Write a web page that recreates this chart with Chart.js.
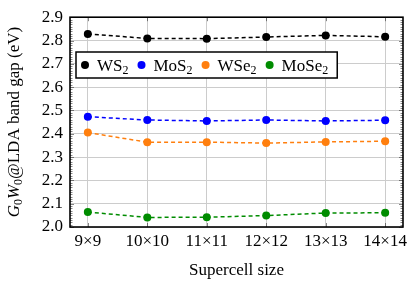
<!DOCTYPE html>
<html>
<head>
<meta charset="utf-8">
<script src="https://cdn.jsdelivr.net/npm/chart.js@4"></script>
<style>
  html, body { margin: 0; padding: 0; background: #fff; }
  #wrap { width: 415px; height: 281px; }
</style>
</head>
<body>
<div id="wrap"><canvas id="gapChart" width="415" height="281"></canvas></div>
<script>
// supercell sizes along the x axis
const categories = ['9×9', '10×10', '11×11', '12×12', '13×13', '14×14'];

// G0W0@LDA band gaps (eV)
const ws2Gap = [2.828, 2.809, 2.808, 2.815, 2.822, 2.816];
const mos2Gap = [2.473, 2.459, 2.455, 2.459, 2.455, 2.458];
const wse2Gap = [2.405, 2.364, 2.364, 2.360, 2.365, 2.368];
const mose2Gap = [2.064, 2.041, 2.042, 2.049, 2.060, 2.061];

const yTicks = [2.0, 2.1, 2.2, 2.3, 2.4, 2.5, 2.6, 2.7, 2.8, 2.9];

// legend names: base text + subscript
const names = [['WS', '2'], ['MoS', '2'], ['WSe', '2'], ['MoSe', '2']];
const colors = ['#000000', '#0000ff', '#ff7f0e', '#008c00'];

const FONT = '"Liberation Serif", "Times New Roman", serif';

function toPoints(arr) {
    return arr.map((v, i) => ({ x: i, y: v }));
}

const series = [ws2Gap, mos2Gap, wse2Gap, mose2Gap];
const datasets = series.map((s, i) => ({
    label: names[i].join(''),
    data: toPoints(s),
    borderColor: colors[i],
    backgroundColor: colors[i],
    borderWidth: 1.5,
    borderDash: [4, 3],
    pointRadius: 4,
    pointBorderWidth: 0,
    pointHoverRadius: 4,
    tension: 0
}));

// frame, minor ticks, legend box and the y title
const decorations = {
    id: 'decorations',
    afterDraw(chart) {
        const ctx = chart.ctx;
        const a = chart.chartArea;
        const y = chart.scales.y;
        const x = chart.scales.x;
        ctx.save();

        // small inward ticks on left/right
        ctx.strokeStyle = '#333';
        ctx.lineWidth = 0.6;
        for (let i = 0; i <= 90; i++) {
            const py = Math.round(y.getPixelForValue(2 + i * 0.01)) + 0.5;
            const len = i % 10 === 0 ? 4 : 2.5;
            ctx.beginPath();
            ctx.moveTo(a.left, py); ctx.lineTo(a.left + len, py);
            ctx.moveTo(a.right, py); ctx.lineTo(a.right - len, py);
            ctx.stroke();
        }
        // major x ticks top/bottom
        for (let i = 0; i < categories.length; i++) {
            const px = Math.round(x.getPixelForValue(i)) + 0.5;
            ctx.beginPath();
            ctx.moveTo(px, a.top); ctx.lineTo(px, a.top + 4);
            ctx.moveTo(px, a.bottom); ctx.lineTo(px, a.bottom - 4);
            ctx.stroke();
        }

        // frame
        ctx.strokeStyle = '#000';
        ctx.lineWidth = 1.6;
        ctx.strokeRect(a.left, a.top, a.right - a.left, a.bottom - a.top);

        // legend
        const bx = 76, by = 52, bh = 26;
        const subFont = '12px ' + FONT;
        let cx = bx + 9;
        const cy = by + bh / 2;
        const items = [];
        for (let i = 0; i < names.length; i++) {
            ctx.font = '17px ' + FONT;
            const w1 = ctx.measureText(names[i][0]).width;
            ctx.font = subFont;
            const w2 = ctx.measureText(names[i][1]).width;
            items.push({ dot: cx, tx: cx + 12, w1: w1, w2: w2 });
            cx = cx + 12 + w1 + w2 + 13;
        }
        const bw = cx - 13 + 9 - bx;
        ctx.fillStyle = '#fff';
        ctx.fillRect(bx, by, bw, bh);
        ctx.lineWidth = 1.5;
        ctx.strokeStyle = '#000';
        ctx.strokeRect(bx, by, bw, bh);
        ctx.textBaseline = 'alphabetic';
        items.forEach((it, i) => {
            ctx.fillStyle = colors[i];
            ctx.beginPath();
            ctx.arc(it.dot, cy, 4, 0, Math.PI * 2);
            ctx.fill();
            ctx.fillStyle = '#000';
            ctx.font = '17px ' + FONT;
            ctx.fillText(names[i][0], it.tx, cy + 6);
            ctx.font = subFont;
            ctx.fillText(names[i][1], it.tx + it.w1, cy + 9);
        });

        // y axis title with italic G, W and subscripts
        const parts = [
            { t: 'G', f: 'italic 17px ' + FONT, dy: 0 },
            { t: '0', f: '12px ' + FONT, dy: 3 },
            { t: 'W', f: 'italic 17px ' + FONT, dy: 0 },
            { t: '0', f: '12px ' + FONT, dy: 3 },
            { t: '@LDA band gap (eV)', f: '17px ' + FONT, dy: 0 }
        ];
        let total = 0;
        parts.forEach(p => { ctx.font = p.f; p.w = ctx.measureText(p.t).width; total += p.w; });
        ctx.translate(19, (a.top + a.bottom) / 2);
        ctx.rotate(-Math.PI / 2);
        let px = -total / 2;
        ctx.fillStyle = '#000';
        parts.forEach(p => {
            ctx.font = p.f;
            ctx.fillText(p.t, px, p.dy);
            px += p.w;
        });
        ctx.restore();
    }
};

new Chart(document.getElementById('gapChart'), {
    type: 'line',
    data: { datasets: datasets },
    options: {
        responsive: false,
        animation: false,
        layout: { padding: { left: 0, right: 12, top: 12, bottom: 0 } },
        plugins: {
            legend: { display: false },
            tooltip: { enabled: false }
        },
        scales: {
            x: {
                type: 'linear',
                min: -0.3,
                max: 5.3,
                afterBuildTicks: (scale) => {
                    scale.ticks = categories.map((c, i) => ({ value: i }));
                },
                afterFit: (scale) => { scale.height = 54; },
                ticks: {
                    callback: (v) => categories[v],
                    color: '#000',
                    font: { family: FONT, size: 17 },
                    padding: 4,
                    maxRotation: 0,
                    autoSkip: false
                },
                grid: { color: '#cccccc', lineWidth: 1, drawTicks: false },
                border: { display: false },
                title: {
                    display: true,
                    text: 'Supercell size',
                    color: '#000',
                    font: { family: FONT, size: 17 },
                    padding: { top: 2, bottom: 0 }
                }
            },
            y: {
                min: 2.0,
                max: 2.9,
                afterBuildTicks: (scale) => {
                    scale.ticks = yTicks.map(v => ({ value: v }));
                },
                afterFit: (scale) => { scale.width = 70; },
                ticks: {
                    callback: (v) => v.toFixed(1),
                    color: '#000',
                    font: { family: FONT, size: 17 },
                    padding: 7,
                    autoSkip: false
                },
                grid: { color: '#cccccc', lineWidth: 1, drawTicks: false },
                border: { display: false }
            }
        }
    },
    plugins: [decorations]
});
</script>
</body>
</html>
